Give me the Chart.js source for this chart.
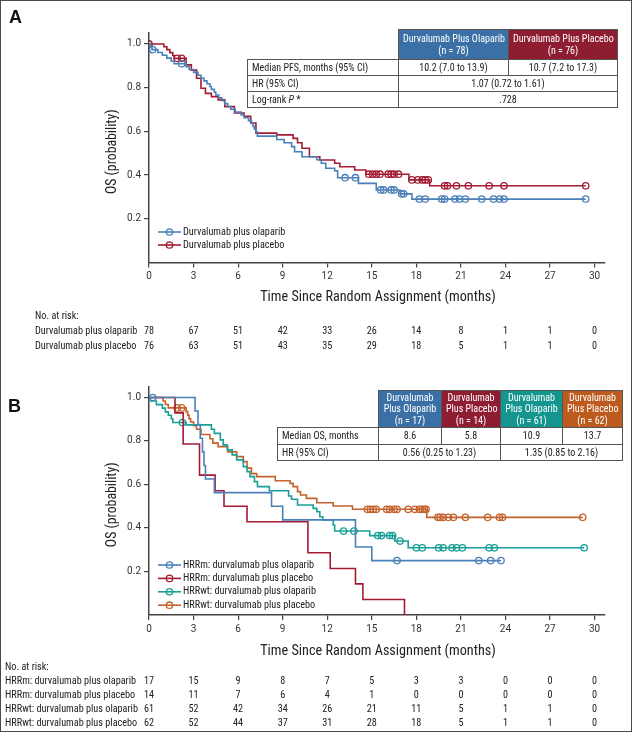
<!DOCTYPE html>
<html>
<head>
<meta charset="utf-8">
<script src="https://cdn.jsdelivr.net/npm/chart.js@4.4.1/dist/chart.umd.min.js"></script>
<style>
  body { margin: 0; background: #fff; }
  #page { position: relative; width: 632px; height: 732px; overflow: hidden; }
  #page canvas { position: absolute; left: 0; }
  #border { position: absolute; left: 0; top: 0; width: 632px; height: 732px; box-sizing: border-box; border: 1.5px solid #4a4a4a; pointer-events: none; }
  table.stats { position: absolute; border-collapse: collapse; font-family: "Liberation Sans Narrow", "Arial Narrow", "Roboto Condensed", sans-serif; font-size: 10px; color: #222; table-layout: fixed; }
  table.stats td { border: 1px solid #555; padding: 0 4px; white-space: nowrap; }
  table.stats td.num { text-align: center; }
  table.stats td.hd { color: #fff; text-align: center; line-height: 11.5px; }
  table.stats td.blank { border: none; }
</style>
</head>
<body>
<div id="page">
  <canvas id="chartA" width="632" height="365" style="top:0"></canvas>
  <canvas id="chartB" width="632" height="367" style="top:365px"></canvas>

  <table class="stats" style="left:247px; top:29px; width:370px;">
    <colgroup><col style="width:151px"><col style="width:110px"><col style="width:109px"></colgroup>
    <tr style="height:30px"><td class="blank"></td>
      <td class="hd" style="background:#3a70a6">Durvalumab Plus Olaparib<br>(n = 78)</td>
      <td class="hd" style="background:#8f1d32">Durvalumab Plus Placebo<br>(n = 76)</td></tr>
    <tr style="height:16px"><td>Median PFS, months (95% CI)</td><td class="num">10.2 (7.0 to 13.9)</td><td class="num">10.7 (7.2 to 17.3)</td></tr>
    <tr style="height:16px"><td>HR (95% CI)</td><td class="num" colspan="2">1.07 (0.72 to 1.61)</td></tr>
    <tr style="height:16px"><td>Log-rank <i>P</i> *</td><td class="num" colspan="2">.728</td></tr>
  </table>

  <table class="stats" style="left:277px; top:390px; width:345px;">
    <colgroup><col style="width:101px"><col style="width:63px"><col style="width:59px"><col style="width:62px"><col style="width:60px"></colgroup>
    <tr style="height:37px"><td class="blank"></td>
      <td class="hd" style="background:#3a70a6">Durvalumab<br>Plus Olaparib<br>(n = 17)</td>
      <td class="hd" style="background:#8f1d32">Durvalumab<br>Plus Placebo<br>(n = 14)</td>
      <td class="hd" style="background:#14968f">Durvalumab<br>Plus Olaparib<br>(n = 61)</td>
      <td class="hd" style="background:#bd5b1e">Durvalumab<br>Plus Placebo<br>(n = 62)</td></tr>
    <tr style="height:16.5px"><td>Median OS, months</td><td class="num">8.6</td><td class="num">5.8</td><td class="num">10.9</td><td class="num">13.7</td></tr>
    <tr style="height:16.5px"><td>HR (95% CI)</td><td class="num" colspan="2">0.56 (0.25 to 1.23)</td><td class="num" colspan="2">1.35 (0.85 to 2.16)</td></tr>
  </table>

  <div id="border"></div>
</div>
<script>
const months = [0, 3, 6, 9, 12, 15, 18, 21, 24, 27, 30];
const probTicks = [0.2, 0.4, 0.6, 0.8, 1.0];

// panel A: [month, survival] steps, censor times
const aOlaparibSteps = [[0,1],[0.1,0.987],[0.2,0.974],[0.6,0.961],[0.9,0.948],[1.2,0.935],[1.5,0.922],[1.7,0.909],
  [2.5,0.896],[2.7,0.883],[3.0,0.870],[3.3,0.857],[3.5,0.844],[3.7,0.831],[3.9,0.818],[4.1,0.805],[4.2,0.792],
  [4.4,0.779],[4.5,0.766],[4.7,0.753],[4.9,0.740],[5.1,0.727],[5.3,0.714],[5.5,0.701],[5.8,0.688],[6.2,0.675],
  [6.4,0.662],[6.7,0.649],[6.9,0.636],[7.0,0.623],[7.1,0.610],[7.2,0.597],[7.3,0.578],[8.6,0.563],[9.1,0.548],
  [9.6,0.530],[9.8,0.507],[10.3,0.484],[11.3,0.470],[11.6,0.454],[11.9,0.431],[12.5,0.420],[12.7,0.388],
  [14.1,0.362],[15.3,0.332],[16.9,0.314],[17.7,0.290],[29.4,0.290]];
const aOlaparibCensor = [0.25, 2.2, 13.2, 13.9, 15.6, 15.8, 16.3, 16.5, 17.0, 17.15, 18.2, 18.6, 19.7, 19.9,
  20.6, 20.9, 21.3, 22.4, 23.2, 23.6, 23.9, 29.4];
const aPlaceboSteps = [[0,1],[1.0,0.987],[1.2,0.974],[1.4,0.960],[1.6,0.947],[1.7,0.934],[2.5,0.904],[2.85,0.880],
  [3.2,0.843],[3.5,0.797],[3.8,0.774],[4.2,0.759],[4.65,0.744],[5.1,0.713],[5.75,0.684],[6.4,0.669],[6.85,0.638],
  [7.2,0.592],[8.6,0.584],[9.7,0.568],[10.0,0.548],[10.3,0.523],[10.8,0.484],[11.5,0.469],[12.5,0.454],
  [12.85,0.438],[13.85,0.423],[14.6,0.404],[17.5,0.378],[18.9,0.351],[29.4,0.351]];
const aPlaceboCensor = [0, 1.9, 2.2, 14.8, 15.05, 15.3, 15.55, 16.1, 16.3, 16.5, 16.8, 17.7, 18.1, 18.4, 18.6,
  18.8, 19.9, 20.1, 20.7, 21.5, 22.9, 23.9, 29.4];
const aLegend = ['Durvalumab plus olaparib', 'Durvalumab plus placebo'];
const aRiskOlaparib = [78, 67, 51, 42, 33, 26, 14, 8, 1, 1, 0];
const aRiskPlacebo = [76, 63, 51, 43, 35, 29, 18, 5, 1, 1, 0];

// panel B
const bMutOlaparibSteps = [[0,1],[3.1,0.9375],[3.3,0.875],[3.45,0.8125],[3.6,0.75],[3.7,0.6875],[3.8,0.625],
  [4.4,0.5625],[8.25,0.5],[9.0,0.4375],[13.9,0.3125],[15.0,0.25],[23.7,0.25]];
const bMutOlaparibCensor = [0.25, 16.7, 22.2, 23.0, 23.7];
const bMutPlaceboSteps = [[0,1],[1.75,0.929],[2.3,0.786],[3.4,0.643],[4.45,0.571],[5.05,0.5],[6.6,0.429],
  [10.7,0.286],[12.2,0.214],[13.9,0.143],[14.4,0.071],[17.2,0]];
const bMutPlaceboCensor = [];
const bWtOlaparibSteps = [[0,1],[0.1,0.984],[0.5,0.967],[0.9,0.951],[1.1,0.934],[1.3,0.918],[1.5,0.902],
  [1.6,0.885],[2.5,0.874],[4.2,0.854],[4.4,0.835],[4.8,0.805],[5.0,0.782],[5.27,0.759],[5.6,0.736],[5.9,0.713],
  [6.35,0.682],[6.6,0.659],[6.8,0.636],[7.1,0.613],[7.3,0.590],[8.1,0.571],[9.4,0.547],[9.6,0.532],[10.0,0.506],
  [11.05,0.490],[11.3,0.475],[11.5,0.452],[11.7,0.437],[12.4,0.414],[12.5,0.386],[14.86,0.365],[16.55,0.340],
  [17.45,0.309],[29.3,0.309]];
const bWtOlaparibCensor = [2.25, 13.1, 13.8, 15.4, 15.65, 16.2, 16.4, 16.9, 18.0, 18.4, 19.5, 19.8, 20.4, 20.7,
  21.1, 22.9, 23.25, 29.3];
const bWtPlaceboSteps = [[0,1],[0.95,0.984],[1.1,0.968],[1.3,0.952],[2.5,0.935],[2.6,0.919],[2.7,0.903],
  [2.8,0.887],[3.0,0.870],[3.2,0.854],[3.5,0.830],[4.1,0.810],[4.3,0.790],[4.65,0.774],[5.3,0.750],[5.9,0.728],
  [6.35,0.705],[6.6,0.675],[6.9,0.650],[7.25,0.636],[8.5,0.617],[9.5,0.605],[9.7,0.590],[10.0,0.567],
  [10.2,0.552],[10.6,0.536],[11.3,0.516],[12.4,0.501],[13.7,0.486],[18.7,0.449],[29.2,0.449]];
const bWtPlaceboCensor = [1.9, 2.2, 14.7, 14.9, 15.1, 15.3, 16.0, 16.2, 16.5, 16.7, 17.45, 17.9, 18.2, 18.4,
  18.55, 18.65, 19.45, 19.6, 19.8, 20.15, 20.5, 21.3, 22.8, 23.6, 23.8, 29.2];
const bLegend = ['HRRm: durvalumab plus olaparib', 'HRRm: durvalumab plus placebo',
  'HRRwt: durvalumab plus olaparib', 'HRRwt: durvalumab plus placebo'];
const bRiskMutOlaparib = [17, 15, 9, 8, 7, 5, 3, 3, 0, 0, 0];
const bRiskMutPlacebo = [14, 11, 7, 6, 4, 1, 0, 0, 0, 0, 0];
const bRiskWtOlaparib = [61, 52, 42, 34, 26, 21, 11, 5, 1, 1, 0];
const bRiskWtPlacebo = [62, 52, 44, 37, 31, 28, 18, 5, 1, 1, 0];

const BLUE = '#4a80b8', RED = '#a31c34', TEAL = '#1a9e98', ORANGE = '#c4622b';
const NARROW = '"Liberation Sans Narrow", "Arial Narrow", "Roboto Condensed", sans-serif';

function survAt(steps, t) {
  let s = steps[0][1];
  for (const [x, y] of steps) { if (x <= t) s = y; }
  return s;
}

function arm(steps, censor, color) {
  return [
    { data: steps.map(([x, y]) => ({ x, y })), stepped: true, borderColor: color, borderWidth: 1.6,
      pointRadius: 0, fill: false },
    { data: censor.map(t => ({ x: t, y: survAt(steps, t) })), showLine: false, borderColor: color,
      backgroundColor: 'rgba(0,0,0,0)', pointStyle: 'circle', pointRadius: 3.2, pointBorderWidth: 1.3 }
  ];
}

// titles, legend, panel letter and the at-risk table
const decorPlugin = {
  id: 'decor',
  afterDraw(chart, args, o) {
    const ctx = chart.ctx, x = chart.scales.x, area = chart.chartArea;
    ctx.save();
    ctx.fillStyle = '#111';
    ctx.font = 'bold 18px "Liberation Sans", Arial, sans-serif';
    ctx.textBaseline = 'middle';
    ctx.textAlign = 'left';
    ctx.fillText(o.letter, o.letterX, o.letterY);

    ctx.fillStyle = '#222';
    ctx.font = '14.2px ' + NARROW;
    ctx.textAlign = 'center';
    ctx.fillText('Time Since Random Assignment (months)', 378, o.xTitleY);
    ctx.save();
    ctx.translate(113, (area.top + area.bottom) / 2 + 4);
    ctx.rotate(-Math.PI / 2);
    ctx.font = '13.8px ' + NARROW;
    ctx.fillText('OS (probability)', 0, 0);
    ctx.restore();

    // legend inside plot
    ctx.font = '10.2px ' + NARROW;
    ctx.textAlign = 'left';
    o.legend.forEach((name, i) => {
      const y = o.legendY + i * o.legendGap, x0 = 158;
      ctx.strokeStyle = o.colors[i];
      ctx.lineWidth = 1.6;
      ctx.beginPath(); ctx.moveTo(x0, y); ctx.lineTo(x0 + 23, y); ctx.stroke();
      ctx.lineWidth = 1.3;
      ctx.beginPath(); ctx.arc(x0 + 11.5, y, 3.2, 0, Math.PI * 2); ctx.stroke();
      ctx.fillStyle = '#222';
      ctx.fillText(name, x0 + 25, y);
    });

    // no. at risk
    ctx.font = '10.2px ' + NARROW;
    ctx.fillStyle = '#222';
    ctx.fillText('No. at risk:', o.riskX, o.riskY);
    o.risk.forEach((row, i) => {
      const y = o.riskY + (i + 1) * o.riskGap;
      ctx.textAlign = 'left';
      ctx.fillText(o.legend[i], o.riskX, y);
      ctx.textAlign = 'center';
      row.forEach((n, j) => ctx.fillText(String(n), x.getPixelForValue(months[j]), y));
    });
    ctx.restore();
  }
};

function makeOptions(top, xHeight, decor) {
  const axisColor = '#444';
  return {
    responsive: false,
    animation: false,
    layout: { padding: { left: 0, top: top, right: 27, bottom: 0 } },
    plugins: { legend: { display: false }, tooltip: { enabled: false }, decor: decor },
    scales: {
      x: {
        type: 'linear', min: 0, max: 30.7,
        afterBuildTicks: s => { s.ticks = months.map(v => ({ value: v })); },
        afterFit: s => { s.height = xHeight; },
        grid: { drawOnChartArea: false, drawTicks: true, tickLength: 5, color: axisColor, lineWidth: 1.2 },
        border: { display: true, color: axisColor, width: 1.5 },
        ticks: { autoSkip: false, maxRotation: 0, padding: 3, color: '#333', font: { family: 'Roboto', size: 10 } }
      },
      y: {
        type: 'linear', min: 0, max: 1.05,
        afterBuildTicks: s => { s.ticks = probTicks.map(v => ({ value: v })); },
        afterFit: s => { s.width = 149; },
        grid: { drawOnChartArea: false, drawTicks: true, tickLength: 5, color: axisColor, lineWidth: 1.2 },
        border: { display: true, color: axisColor, width: 1.5 },
        ticks: { padding: 3, color: '#333', font: { family: 'Roboto', size: 10 }, callback: v => v.toFixed(1) }
      }
    }
  };
}

new Chart(document.getElementById('chartA'), {
  type: 'line',
  data: { datasets: [...arm(aOlaparibSteps, aOlaparibCensor, BLUE), ...arm(aPlaceboSteps, aPlaceboCensor, RED)] },
  options: makeOptions(33, 102.5, {
    letter: 'A', letterX: 9, letterY: 18, xTitleY: 297,
    legend: aLegend, colors: [BLUE, RED], legendY: 232, legendGap: 13,
    risk: [aRiskOlaparib, aRiskPlacebo], riskX: 35, riskY: 316, riskGap: 15
  }),
  plugins: [decorPlugin]
});

new Chart(document.getElementById('chartB'), {
  type: 'line',
  data: { datasets: [
    ...arm(bMutOlaparibSteps, bMutOlaparibCensor, BLUE),
    ...arm(bMutPlaceboSteps, bMutPlaceboCensor, RED),
    ...arm(bWtOlaparibSteps, bWtOlaparibCensor, TEAL),
    ...arm(bWtPlaceboSteps, bWtPlaceboCensor, ORANGE)
  ] },
  options: makeOptions(21.6, 117, {
    letter: 'B', letterX: 8, letterY: 42, xTitleY: 286,
    legend: bLegend, colors: [BLUE, RED, TEAL, ORANGE], legendY: 200, legendGap: 13.4,
    risk: [bRiskMutOlaparib, bRiskMutPlacebo, bRiskWtOlaparib, bRiskWtPlacebo], riskX: 5, riskY: 302, riskGap: 14.2
  }),
  plugins: [decorPlugin]
});
</script>
</body>
</html>
